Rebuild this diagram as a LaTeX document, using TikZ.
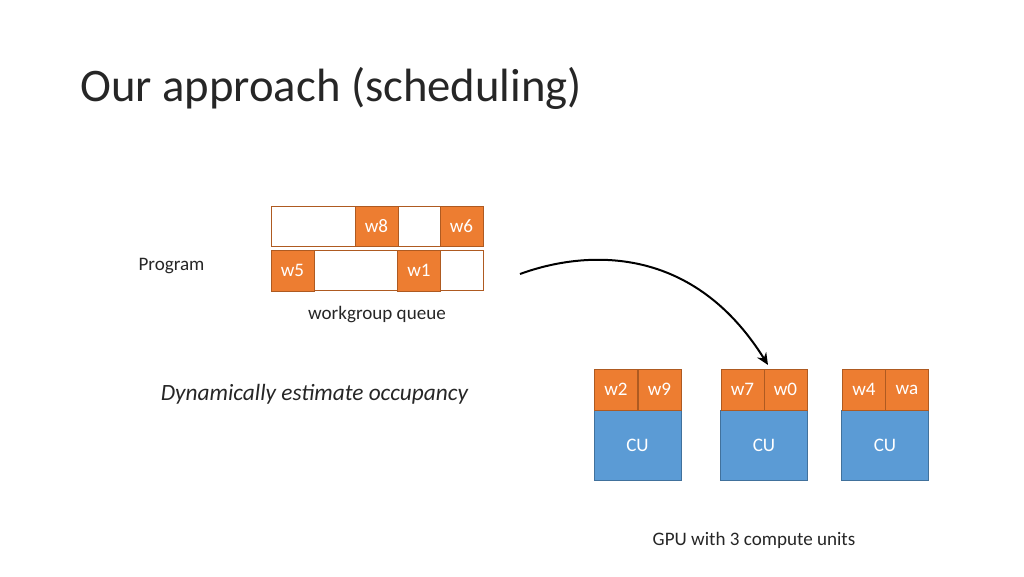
\documentclass[tikz,border=0pt]{standalone}
\usepackage{fontspec}
\setmainfont{Carlito}
\usetikzlibrary{arrows.meta}
\definecolor{wfill}{HTML}{ED7D31}
\definecolor{wline}{HTML}{AE5A21}
\definecolor{cufill}{HTML}{5B9BD5}
\definecolor{culine}{HTML}{41719C}
\definecolor{txt}{HTML}{262626}
\tikzset{
  wcell/.style={draw=wline, fill=wfill, text=white, line width=0.6pt, inner sep=0pt,
    minimum width={43*0.75pt}, minimum height={40*0.75pt}, font=\fontsize{14.3}{16}\selectfont},
  qrow/.style={draw=wline, fill=white, line width=0.6pt, inner sep=0pt,
    minimum width={212*0.75pt}, minimum height={40*0.75pt}},
  cubox/.style={draw=culine, fill=cufill, text=white, line width=0.6pt, inner sep=0pt,
    minimum width={87*0.75pt}, minimum height={70*0.75pt}, font=\fontsize{14.3}{16}\selectfont},
  lbl/.style={text=txt, inner sep=0pt, font=\fontsize{14.3}{16}\selectfont},
  flow/.style={line width=1.5pt, -{Stealth[length=9pt, width=8pt, inset=3pt]}}
}
\begin{document}
\begin{tikzpicture}[x=0.75pt, y=-0.75pt]
\useasboundingbox (0,0) rectangle (1024,576);
\node[anchor=base west, inner sep=0pt, text=txt, font=\fontsize{35}{40}\selectfont] (title) at (80,101) {Our approach (scheduling)};
% queue
\node[qrow] (q1) at (377,226) {};
\node[qrow] (q2) at (377,270.5) {};
\node[wcell] (w8) at (376.5,226) {w8};
\node[wcell] (w6) at (461.5,226) {w6};
\node[wcell, minimum height={41*0.75pt}] (w5) at (292.5,270.5) {w5};
\node[wcell, minimum height={41*0.75pt}] (w1) at (419,270.5) {w1};
\node[lbl] (prog) at (171.5,266) {Program};
\node[lbl] (wq) at (377,315) {workgroup queue};
\node[lbl, font=\fontsize{17.5}{20}\selectfont\itshape] (dyn) at (314.5,394) {Dynamically estimate occupancy};
% CUs
\node[cubox] (cu1) at (637.5,445) {CU};
\node[wcell, minimum height={41*0.75pt}] (w2) at (616,389.5) {w2};
\node[wcell, minimum height={41*0.75pt}] (w9) at (659.5,389.5) {w9};
\node[cubox] (cu2) at (764,445) {CU};
\node[wcell, minimum height={41*0.75pt}] (w7) at (742.5,389.5) {w7};
\node[wcell, minimum height={41*0.75pt}] (w0) at (785.5,389.5) {w0};
\node[cubox] (cu3) at (885,445) {CU};
\node[wcell, minimum height={41*0.75pt}] (w4) at (864,389.5) {w4};
\node[wcell, minimum height={41*0.75pt}] (wa) at (907,389.5) {wa};
\node[lbl] (gpu) at (754,540) {GPU with 3 compute units};
% arrow
\coordinate (astart) at (520,274);
\coordinate (aend) at (768,365);
\draw[flow] (astart) .. controls (580,252) and (690,240) .. (aend);
\end{tikzpicture}
\end{document}
